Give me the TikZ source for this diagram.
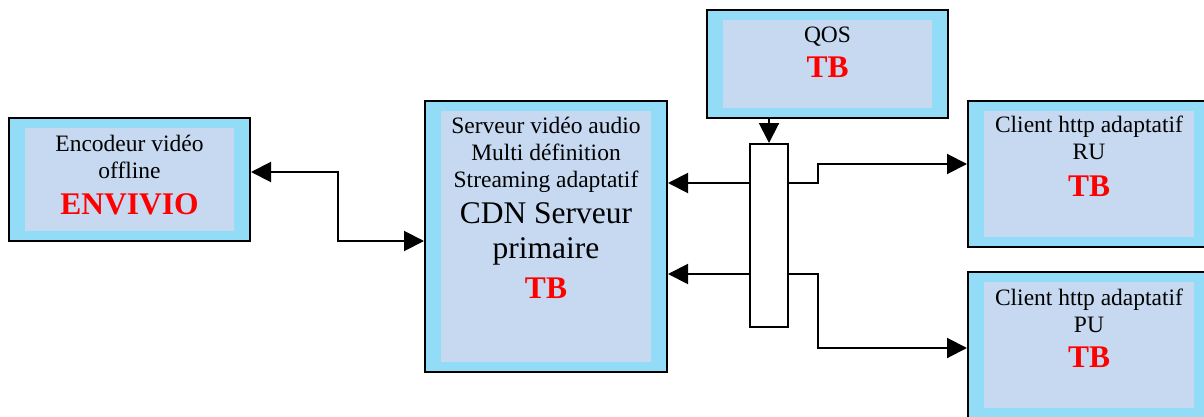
\documentclass[tikz,border=0pt]{standalone}
\usepackage{fontspec}
\setmainfont{Liberation Serif}
\usetikzlibrary{arrows.meta,positioning,calc}

\definecolor{ciel}{RGB}{146,220,247}
\definecolor{lavande}{RGB}{198,217,240}
\definecolor{rouge}{RGB}{255,0,0}

\newcommand{\tb}[1]{{\fontsize{31.5}{36}\selectfont\bfseries\color{rouge}#1}}
\newcommand{\gros}[1]{{\fontsize{31.5}{36}\selectfont #1}}

\begin{document}
\begin{tikzpicture}[
  x=1pt, y=1pt,
  bloc/.style={draw, line width=2pt, fill=ciel, inner sep=0pt, minimum width=241pt,
    path picture={\fill[lavande] ([xshift=16pt,yshift=10pt]path picture bounding box.south west)
      rectangle ([xshift=-16pt,yshift=-10pt]path picture bounding box.north east);}},
  txt/.style={align=center, inner sep=0pt, anchor=north, font=\fontsize{23.5}{27}\selectfont},
  aiguillage/.style={draw, line width=2pt, fill=white, minimum width=38pt, minimum height=183pt, inner sep=0pt},
  link/.style={line width=2pt, -{Triangle[length=20pt,width=20pt]}},
  duplex/.style={line width=2pt, {Triangle[length=20pt,width=20pt]}-{Triangle[length=20pt,width=20pt]}}
]
\clip (0,0) rectangle (1204,416);

% boites
\node[bloc, minimum height=123pt] (enc) at (129.5,236.5) {};
\node[bloc, minimum width=242pt, minimum height=271pt] (srv) at (546,179.5) {};
\node[bloc, minimum height=108pt] (qos) at (827.5,352) {};
\node[bloc, minimum width=242pt, minimum height=146pt] (ru) at (1089,242) {};
\node[bloc, minimum width=242pt, minimum height=146pt] (pu) at (1089,71) {};
\node[aiguillage] (aig) at (769,180.5) {};

% textes
\node[txt] (enc-t) at ([yshift=-18pt]enc.north) {Encodeur vidéo\\offline\\[9pt]\tb{ENVIVIO}};
\node[txt] (srv-t) at ([yshift=-17pt]srv.north) {Serveur vidéo audio\\Multi définition\\Streaming adaptatif\\[9pt]\gros{CDN Serveur}\\[8pt]\gros{primaire}\\[12pt]\tb{TB}};
\node[txt] (qos-t) at ([yshift=-18pt]qos.north) {QOS\\[8pt]\tb{TB}};
\node[txt] (ru-t) at ([yshift=-16pt]ru.north) {Client http adaptatif\\RU\\[10pt]\tb{TB}};
\node[txt] (pu-t) at ([yshift=-18pt]pu.north) {Client http adaptatif\\PU\\[8pt]\tb{TB}};

% liaisons
\coordinate (haut) at ([yshift=-40pt]aig.north west);
\coordinate (bas) at ([yshift=54pt]aig.south west);
\draw[duplex] ([yshift=7.5pt]enc.east) -| ($(enc.east)!0.5!(srv.west)$) |- ([yshift=-4.5pt]srv.west);
\draw[link] (aig.north |- qos.south) -- (aig.north);
\draw[link] (haut) -- (haut -| srv.east);
\draw[link] (bas) -- (bas -| srv.east);
\draw[link] (haut -| aig.east) -- ++(29,0) |- ([yshift=10pt]ru.west);
\draw[link] (bas -| aig.east) -- ++(29,0) |- ([yshift=-3pt]pu.west);

\end{tikzpicture}
\end{document}
